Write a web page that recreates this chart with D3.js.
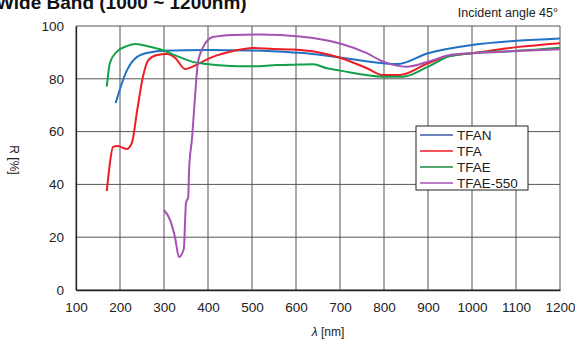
<!DOCTYPE html>
<html>
<head>
<meta charset="utf-8">
<script src="https://cdn.jsdelivr.net/npm/d3@7"></script>
<style>
  body { margin: 0; background: #fff; }
  svg { display: block; font-family: "Liberation Sans", Arial, sans-serif; }
</style>
</head>
<body>
<svg id="chart" width="575" height="340"></svg>
<script>
const xTicks = [100, 200, 300, 400, 500, 600, 700, 800, 900, 1000, 1100, 1200];
const yTicks = [0, 20, 40, 60, 80, 100];

const seriesNames = ['TFAN', 'TFA', 'TFAE', 'TFAE-550'];
const seriesColors = ['#1f72c4', '#ee1c25', '#12a04a', '#a552b4'];
const legendColors = ['#3c5aa8', '#ee1c25', '#1c8a40', '#a552b4'];

const tfanNm = [190, 216, 239, 268, 300, 400, 500, 600, 627, 700, 798, 830, 900, 1000, 1102, 1200];
const tfanR  = [70.8, 83.3, 88.3, 90, 90.6, 90.9, 90.7, 89.9, 89.6, 88.1, 85.9, 85.6, 89.7, 92.8, 94.4, 95.3];

const tfaNm = [170, 177, 184, 195, 216, 227, 239, 252, 264, 284, 307, 325, 348, 364, 382, 411, 457, 502, 548, 593, 655, 700, 761, 798, 836, 900, 950, 1000, 1102, 1200];
const tfaR  = [37.5, 48, 54.2, 54.5, 53.4, 55.7, 68, 80.7, 87, 89, 89.4, 88, 83.7, 84.5, 86, 88.3, 90.5, 91.7, 91.3, 91.1, 89.9, 88, 84, 81.4, 81.4, 85.9, 88.6, 89.7, 92, 93.5];

const tfaeNm = [170, 177, 193, 216, 234, 261, 291, 330, 366, 398, 466, 518, 555, 609, 639, 670, 700, 798, 843, 900, 950, 1000, 1102, 1200];
const tfaeR  = [77, 86, 90.3, 92.4, 93.2, 92.4, 91.2, 88.6, 86.4, 85.6, 84.8, 84.8, 85.2, 85.4, 85.5, 84, 83.1, 80.8, 80.8, 84.6, 88.6, 89.7, 90.6, 91.8];

const tfae550Nm = [300, 314, 325, 334, 345, 350, 355, 357, 364, 370, 377, 389, 411, 457, 518, 564, 609, 655, 700, 761, 798, 852, 900, 950, 1000, 1102, 1200];
const tfae550R  = [30.3, 26.5, 20, 12.5, 15.5, 33, 35.2, 45.5, 58, 72, 86, 92, 95.8, 96.6, 96.8, 96.6, 96, 95, 93.4, 89.7, 86.5, 84.6, 86.5, 89, 89.7, 90.5, 91.2];

const seriesNm = [tfanNm, tfaNm, tfaeNm, tfae550Nm];
const seriesR = [tfanR, tfaR, tfaeR, tfae550R];

const svg = d3.select('#chart');
const plotLeft = 76, plotRight = 560, plotTop = 26, plotBottom = 290;

const x = d3.scaleLinear().domain([100, 1200]).range([plotLeft, plotRight]);
const y = d3.scaleLinear().domain([0, 100]).range([plotBottom, plotTop]);

// title (cut off at top, as in the source)
svg.append('text')
  .attr('x', -4).attr('y', 9)
  .attr('font-size', 19).attr('font-weight', 'bold')
  .attr('fill', '#111')
  .text('Wide Band (1000 ~ 1200nm)');

svg.append('text')
  .attr('x', 558).attr('y', 17)
  .attr('text-anchor', 'end')
  .attr('font-size', 12.5).attr('fill', '#222')
  .text('Incident angle 45°');

// grid
svg.append('g')
  .selectAll('line')
  .data(xTicks)
  .join('line')
  .attr('x1', d => x(d)).attr('x2', d => x(d))
  .attr('y1', plotTop).attr('y2', plotBottom)
  .attr('stroke', '#555').attr('stroke-width', 1);

svg.append('g')
  .selectAll('line')
  .data(yTicks)
  .join('line')
  .attr('x1', plotLeft).attr('x2', plotRight)
  .attr('y1', d => y(d)).attr('y2', d => y(d))
  .attr('stroke', '#555').attr('stroke-width', 1);

// axes
const xAxis = svg.append('g')
  .attr('transform', `translate(0,${plotBottom})`)
  .call(d3.axisBottom(x).tickValues(xTicks).tickFormat(d3.format('d')).tickSize(0).tickPadding(12));
const yAxis = svg.append('g')
  .attr('transform', `translate(${plotLeft},0)`)
  .call(d3.axisLeft(y).tickValues(yTicks).tickFormat(d3.format('d')).tickSize(0).tickPadding(12));
[xAxis, yAxis].forEach(a => {
  a.select('.domain').attr('stroke', '#222').attr('stroke-width', 1.3);
  a.selectAll('text').attr('font-size', 13.5).attr('fill', '#222')
    .attr('font-family', '"Liberation Sans", Arial, sans-serif');
});

// axis titles
svg.append('text')
  .attr('x', 328).attr('y', 336)
  .attr('text-anchor', 'middle')
  .attr('font-size', 12).attr('fill', '#222')
  .html('<tspan font-style="italic">λ</tspan> [nm]');

svg.append('text')
  .attr('transform', 'translate(10,160) rotate(90)')
  .attr('text-anchor', 'middle')
  .attr('font-size', 12).attr('fill', '#222')
  .text('R [%]');

// lines
const line = d3.line()
  .x(d => x(d[0]))
  .y(d => y(d[1]))
  .curve(d3.curveMonotoneX);

seriesNames.forEach((name, i) => {
  const pts = seriesNm[i].map((nm, j) => [nm, seriesR[i][j]]);
  svg.append('path')
    .datum(pts)
    .attr('fill', 'none')
    .attr('stroke', seriesColors[i])
    .attr('stroke-width', 2)
    .attr('stroke-linejoin', 'round')
    .attr('d', line);
});

// legend
const legend = svg.append('g').attr('transform', 'translate(416,126)');
legend.append('rect')
  .attr('width', 112).attr('height', 64)
  .attr('fill', '#fff').attr('stroke', '#222').attr('stroke-width', 1);
seriesNames.forEach((name, i) => {
  const g = legend.append('g').attr('transform', `translate(0,${9 + i * 16})`);
  g.append('line')
    .attr('x1', 4).attr('x2', 37)
    .attr('stroke', legendColors[i]).attr('stroke-width', 1.5);
  g.append('text')
    .attr('x', 41).attr('y', 5)
    .attr('font-size', 13.5).attr('fill', '#222')
    .text(name);
});
</script>
</body>
</html>
